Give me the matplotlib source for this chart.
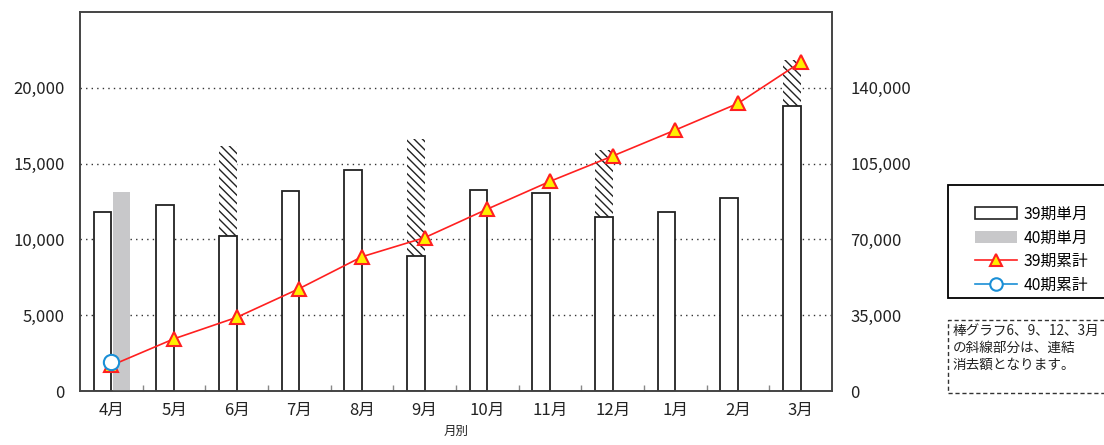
import matplotlib.pyplot as plt
from matplotlib.patches import Rectangle, Patch
from matplotlib.lines import Line2D
from matplotlib.ticker import FuncFormatter, FixedLocator
import numpy as np

plt.rcParams['font.family'] = ['Noto Sans CJK JP', 'DejaVu Sans']

months = ["4月", "5月", "6月", "7月", "8月", "9月", "10月", "11月", "12月", "1月", "2月", "3月"]
ki39_month = [11800, 12300, 10250, 13200, 14600, 8900, 13250, 13050, 11500, 11800, 12750, 18800]
ki39_total_bar = [None, None, 16150, None, None, 16650, None, None, 15900, None, None, 21850]
ki40_month = [13150]
ki39_cum = [11800, 24100, 34000, 47300, 62000, 70800, 84000, 96800, 108500, 120500, 132800, 151800]
ki40_cum = [13300]

x = np.arange(len(months))
w = 0.28

fig = plt.figure(figsize=(11.04, 4.45), dpi=100)
ax = fig.add_axes([80/1104, 1-391/445, 752/1104, 379/445])
ax2 = ax.twinx()
ax.set_zorder(1)
ax2.set_zorder(2)
ax2.patch.set_visible(False)

ax.set_ylim(0, 25000)
ax2.set_ylim(0, 175000)
ax.set_xlim(-0.5, len(months) - 0.5)

for yv in [5000, 10000, 15000, 20000]:
    ax.axhline(yv, color='#333333', linestyle=(0, (1, 3)), linewidth=1.0, zorder=0)

# hatched part (consolidated elimination)
for i, tot in enumerate(ki39_total_bar):
    if tot is not None:
        ax.bar(x[i] - w/2, tot - ki39_month[i], w, bottom=ki39_month[i],
               facecolor='white', edgecolor='#222222', linewidth=0,
               hatch='\\\\\\\\', zorder=2)

ax.bar(x - w/2, ki39_month, w, facecolor='white', edgecolor='#222222',
       linewidth=1.3, zorder=3)
ax.bar(x[:len(ki40_month)] + w/2 + 0.02, ki40_month, w, color='#c8c8ca',
       linewidth=0, zorder=3)

ax2.plot(x, ki39_cum, color='#ff2020', linewidth=1.2, marker='^',
         markersize=10, markerfacecolor='#ffee00', markeredgecolor='#ff2020',
         markeredgewidth=1.5, zorder=4)
ax2.plot(x[:len(ki40_cum)], ki40_cum, color='#1a8fd6', linewidth=1.2, marker='o',
         markersize=11, markerfacecolor='white', markeredgecolor='#1a8fd6',
         markeredgewidth=1.5, zorder=5)

fmt = FuncFormatter(lambda v, p: f"{int(v):,}")
ax.yaxis.set_major_locator(FixedLocator([0, 5000, 10000, 15000, 20000]))
ax.yaxis.set_major_formatter(fmt)
ax2.yaxis.set_major_locator(FixedLocator([0, 35000, 70000, 105000, 140000]))
ax2.yaxis.set_major_formatter(fmt)
ax.tick_params(axis='y', length=0, pad=11, labelsize=12, labelcolor='#222222')
ax2.tick_params(axis='y', length=0, pad=13, labelsize=12, labelcolor='#222222')

ax.set_xticks(x)
ax.set_xticklabels(months)
ax.tick_params(axis='x', length=0, pad=8, labelsize=12, labelcolor='#222222')
ax.set_xticks(np.arange(0.5, len(months) - 0.5, 1), minor=True)
ax.tick_params(axis='x', which='minor', direction='in', length=4, color='#888888', width=1)
ax.set_xlabel("月別", fontsize=9, labelpad=4, color='#222222')

for a in (ax, ax2):
    for s in a.spines.values():
        s.set_color('#444444')
        s.set_linewidth(1.2)

# legend box
fig.patches.append(Rectangle((948/1104, 1-298/445), 170/1104, 113/445,
                             transform=fig.transFigure, facecolor='white',
                             edgecolor='black', linewidth=1.3))
handles = [
    Patch(facecolor='white', edgecolor='#222222', linewidth=1.2),
    Patch(facecolor='#c8c8ca', edgecolor='none'),
    Line2D([], [], color='#ff2020', linewidth=1.2, marker='^', markersize=9,
           markerfacecolor='#ffee00', markeredgecolor='#ff2020', markeredgewidth=1.5),
    Line2D([], [], color='#1a8fd6', linewidth=1.2, marker='o', markersize=9,
           markerfacecolor='white', markeredgecolor='#1a8fd6', markeredgewidth=1.5),
]
labels = ["39期単月", "40期単月", "39期累計", "40期累計"]
fig.legend(handles, labels, loc='upper left', bbox_to_anchor=(967/1104, 1-198/445),
           frameon=False, fontsize=11.3, handlelength=2.7, handleheight=0.8,
           handletextpad=0.4, labelspacing=0.42, borderpad=0)

# note box
fig.patches.append(Rectangle((948/1104, 1-393/445), 170/1104, 73/445,
                             transform=fig.transFigure, facecolor='white',
                             edgecolor='#333333', linewidth=1.0, linestyle=(0, (3, 2))))
fig.text(953/1104, 1-324/445, "棒グラフ6、9、12、3月\nの斜線部分は、連結\n消去額となります。",
         fontsize=9.8, va='top', ha='left', linespacing=1.25, color='#222222')

fig.savefig("out.png", dpi=100)
